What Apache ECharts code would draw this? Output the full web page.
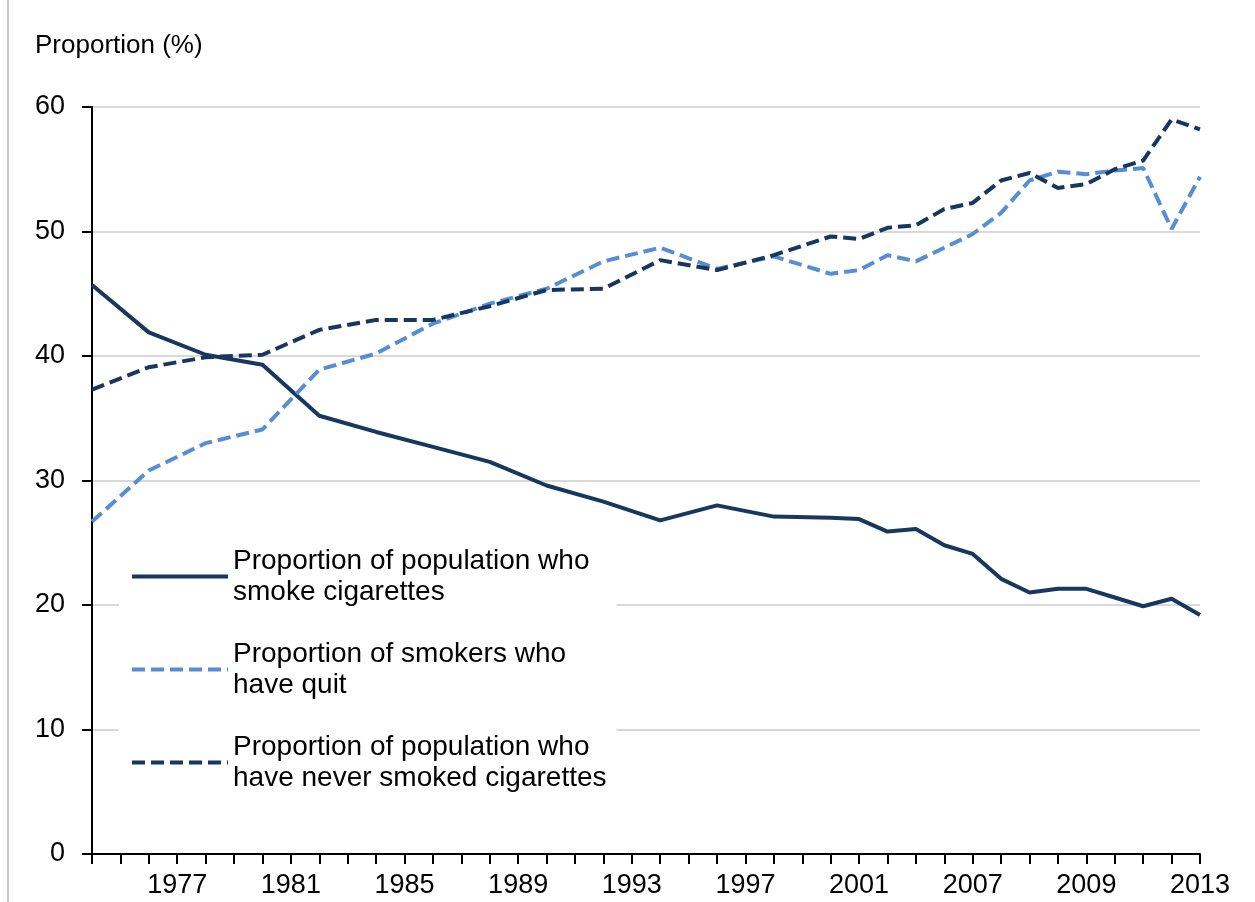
<!DOCTYPE html>
<html>
<head>
<meta charset="utf-8">
<script src="https://cdn.jsdelivr.net/npm/echarts@6/dist/echarts.min.js"></script>
<style>
  html, body { margin: 0; padding: 0; background: #fff; }
  #grafico { width: 1255px; height: 902px; }
</style>
</head>
<body>
<div id="grafico"></div>
<script>
// etiquetas del eje x (una por categoria, solo algunas visibles)
var xLabels = [
    '', '', '', '1977', '', '', '', '1981', '', '',
    '', '1985', '', '', '', '1989', '', '', '', '1993',
    '', '', '', '1997', '', '', '', '2001', '', '',
    '', '2007', '', '', '', '2009', '', '', '', '2013'
];

// null = sin encuesta ese anio (se une la linea)
var smokers = [
    45.7, null, 41.9, null, 40.1, null, 39.3, null, 35.2, null,
    33.9, null, 32.7, null, 31.5, null, 29.6, null, 28.3, null,
    26.8, null, 28.0, null, 27.1, null, 27.0, 26.9, 25.9, 26.1,
    24.8, 24.1, 22.1, 21.0, 21.3, 21.3, 20.6, 19.9, 20.5, 19.2
];
var quit = [
    26.7, null, 30.8, null, 33.0, null, 34.1, null, 38.9, null,
    40.2, null, 42.6, null, 44.2, null, 45.4, null, 47.6, null,
    48.7, null, 47.0, null, 48.0, null, 46.6, 46.9, 48.1, 47.6,
    48.7, 49.8, 51.5, 54.1, 54.8, 54.6, 54.9, 55.1, 50.2, 54.4
];
var never = [
    37.3, null, 39.1, null, 39.9, null, 40.1, null, 42.1, null,
    42.9, null, 42.9, null, 44.0, null, 45.3, null, 45.4, null,
    47.7, null, 46.9, null, 48.1, null, 49.6, 49.4, 50.3, 50.5,
    51.8, 52.3, 54.1, 54.7, 53.5, 53.8, 55.0, 55.7, 59.0, 58.2
];

var names = [
    'Proportion of population who\nsmoke cigarettes',
    'Proportion of smokers who\nhave quit',
    'Proportion of population who\nhave never smoked cigarettes'
];

var dom = document.getElementById('grafico');
var myChart = echarts.init(dom, null, { renderer: 'canvas' });

var fuente = '"Liberation Sans", Arial, sans-serif';
var azulOscuro = '#17375e';
var azulClaro = '#558ed5';

var option = {
    animation: false,
    textStyle: { fontFamily: fuente },
    title: {
        text: 'Proportion (%)',
        left: 35,
        top: 33,
        padding: 0,
        textStyle: { fontSize: 26, fontWeight: 'normal', color: '#000', fontFamily: fuente }
    },
    grid: { left: 92, right: 55, top: 107, bottom: 48 },
    legend: {
        orient: 'vertical',
        left: 119,
        top: 530,
        padding: [0, 10, 4, 11],
        itemGap: 0,
        itemWidth: 96,
        itemHeight: 14,
        backgroundColor: '#fff',
        data: names,
        itemStyle: { opacity: 0 },
        lineStyle: { width: 4 },
        textStyle: {
            fontSize: 28,
            lineHeight: 31,
            color: '#000',
            padding: [31, 0, 0, 0],
            fontFamily: fuente
        }
    },
    xAxis: {
        type: 'category',
        data: xLabels,
        boundaryGap: false,
        axisLine: { lineStyle: { color: '#000', width: 2 } },
        axisTick: { show: true, interval: 0, length: 10, lineStyle: { color: '#000', width: 2 } },
        axisLabel: { interval: 0, color: '#000', fontSize: 27, margin: 18 },
        splitLine: { show: false }
    },
    yAxis: {
        type: 'value',
        min: 0,
        max: 60,
        interval: 10,
        axisLine: { show: true, lineStyle: { color: '#000', width: 2 } },
        axisTick: { show: true, length: 10, lineStyle: { color: '#000', width: 2 } },
        axisLabel: { color: '#000', fontSize: 27, margin: 27 },
        splitLine: { lineStyle: { color: '#d9d9d9', width: 2 } }
    },
    series: [
        {
            name: names[0],
            type: 'line',
            data: smokers,
            connectNulls: true,
            symbol: 'none',
            color: azulOscuro,
            lineStyle: { color: azulOscuro, width: 4 }
        },
        {
            name: names[1],
            type: 'line',
            data: quit,
            connectNulls: true,
            symbol: 'none',
            color: azulClaro,
            lineStyle: { color: azulClaro, width: 4, type: [13, 6] }
        },
        {
            name: names[2],
            type: 'line',
            data: never,
            connectNulls: true,
            symbol: 'none',
            color: azulOscuro,
            lineStyle: { color: azulOscuro, width: 4, type: [13, 6] }
        }
    ],
    graphic: [
        {
            type: 'line',
            shape: { x1: 8, y1: 0, x2: 8, y2: 902 },
            style: { stroke: '#c8c8c8', lineWidth: 2 }
        }
    ]
};

if (option && typeof option === 'object') {
    myChart.setOption(option);
}

window.addEventListener('resize', myChart.resize);
</script>
</body>
</html>
